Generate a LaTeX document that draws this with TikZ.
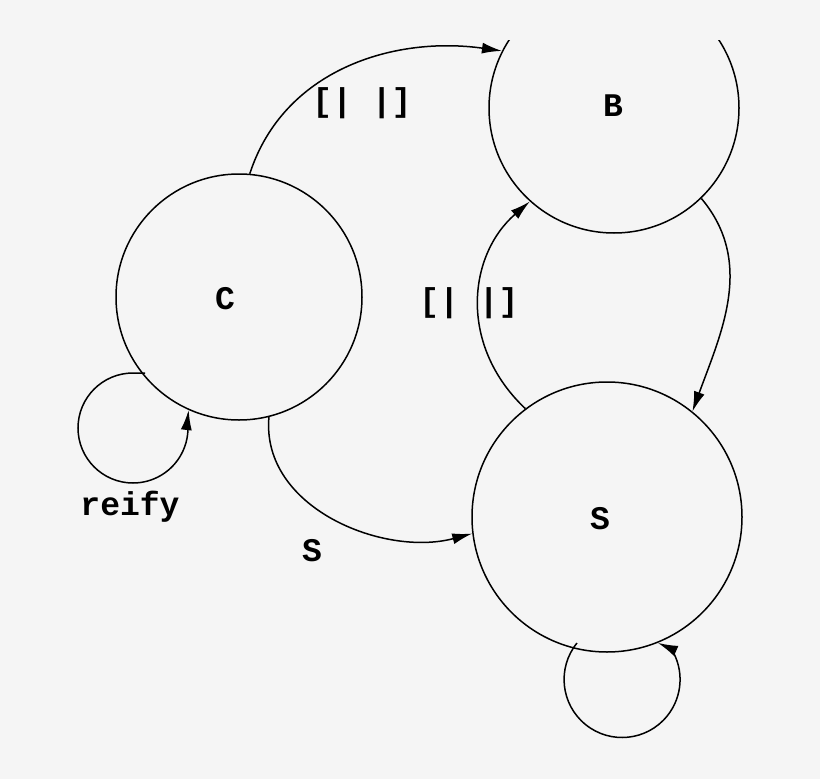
\documentclass[tikz,border=0pt]{standalone}
\usepackage{fontspec}
\setmonofont{Liberation Mono}
\usetikzlibrary{arrows.meta}
\definecolor{bg}{HTML}{F5F5F5}
\begin{document}
\begin{tikzpicture}[x=1pt,y=-1pt,
  state/.style={circle,draw,line width=1.5pt,inner sep=0pt},
  lbl/.style={font=\ttfamily\bfseries\fontsize{33}{33}\selectfont},
  edge/.style={line width=1.5pt,-{Latex[length=20pt,width=11pt]}}]
\fill[bg] (0,0) rectangle (820,779);
\useasboundingbox (0,0) rectangle (820,779);
\begin{scope}
\clip (0,40) rectangle (820,779);
\node[state,minimum size=246pt] (C) at (239,297) {};
\node[state,minimum size=250pt] (B) at (614,108) {};
\node[state,minimum size=270pt] (S) at (607,517) {};
\node[lbl] (tc) at (225,299) {C};
\node[lbl] (tb) at (613,106) {B};
\node[lbl] (ts) at (600,519) {S};
\draw[edge] (C.85) to[out=72,in=172] (B.153);
\draw[edge] (B.-46) to[out=-50,in=70] (S.51);
\draw[edge] (S.127) .. controls (458,345) and (468,255) .. (B.-132);
\draw[edge] (C.-76) to[out=-95,in=195] (S.187);
\coordinate (cl) at (145,373);
\draw[edge] (cl) -- ++(-12,0) arc[start angle=-90,end angle=-368,radius=55] -- (C.-114);
\coordinate (sl) at (577,643);
\draw[edge] (sl) arc[start angle=-141,end angle=-392,radius=58] -- (S.-68);
\node[lbl] (l1) at (362,103) {[|~|]};
\node[lbl] (l2) at (469,303) {[|~|]};
\node[lbl] (l3) at (130,507) {reify};
\node[lbl] (l4) at (312,551) {S};
\end{scope}
\end{tikzpicture}
\end{document}
